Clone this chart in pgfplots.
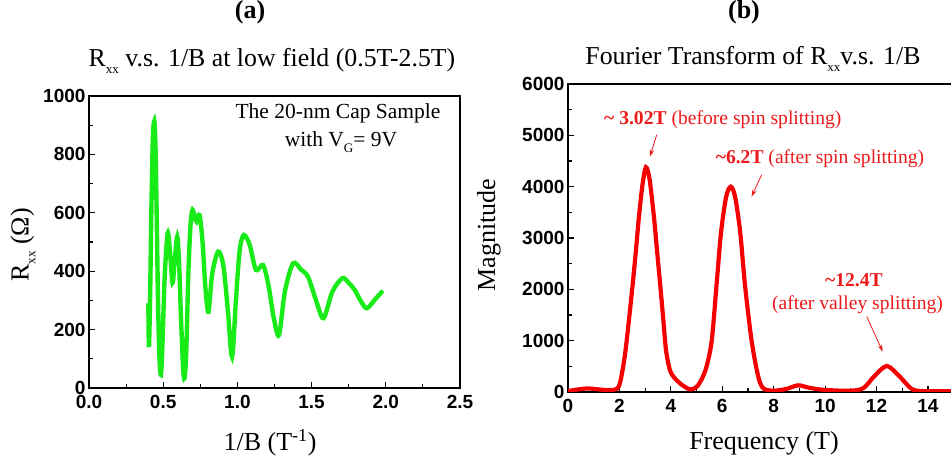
\documentclass[border=0pt]{standalone}
\usepackage{fontspec}
\setmainfont{Liberation Serif}
\newfontfamily\arialfont{Liberation Sans}
\usepackage{pgfplots}
\pgfplotsset{compat=1.18}
\usetikzlibrary{arrows.meta}

\definecolor{curvegreen}{RGB}{25,235,25}
\definecolor{curvered}{RGB}{245,0,0}
\definecolor{notered}{RGB}{235,25,25}

\newcommand\lowsub[1]{\raisebox{-0.55ex}{\fontsize{13}{13}\selectfont #1}}
\newcommand\fs[1]{\fontsize{#1}{#1}\selectfont}

% R_xx against 1/B (T^-1), 20-nm cap sample
\pgfplotstableread{
invB   R
0.400  290
0.404  140
0.412  320
0.420  600
0.430  850
0.440  915
0.448  830
0.456  600
0.465  300
0.475  100
0.485  45
0.495  150
0.510  380
0.530  530
0.545  470
0.563  361
0.578  440
0.594  518
0.606  440
0.620  240
0.634  70
0.644  34
0.655  120
0.670  400
0.685  565
0.698  610
0.712  585
0.725  570
0.745  592
0.765  500
0.785  340
0.805  261
0.830  390
0.870  467
0.905  420
0.935  270
0.964  107
0.990  300
1.015  470
1.043  524
1.083  490
1.125  404
1.173  421
1.210  350
1.245  240
1.280  181
1.320  330
1.375  427
1.430  405
1.476  381
1.530  300
1.580  239
1.640  330
1.707  376
1.750  360
1.790  336
1.835  295
1.873  273
1.930  305
1.980  333
}\rxxdata

% Fourier magnitude against frequency (T)
\pgfplotstableread{
f      mag
0.00   20
0.40   50
0.75   70
1.10   55
1.60   35
1.90   60
2.02   170
2.13   450
2.24   820
2.38   1450
2.52   2120
2.65   2800
2.76   3420
2.90   4050
3.03   4380
3.17   4150
3.34   3420
3.46   2770
3.58   2120
3.70   1450
3.81   820
3.95   450
4.10   300
4.40   150
4.75   50
5.00   100
5.20   250
5.39   500
5.59   1000
5.78   2100
5.95   3100
6.15   3800
6.33   4000
6.50   3800
6.70   3100
6.88   2100
7.14   1000
7.40   300
7.60   70
8.00   25
8.50   60
8.95   130
9.40   80
10.00  40
11.00  25
11.50  80
11.90  300
12.40  507
12.90  300
13.40  50
14.00  15
15.30  15
}\ftdata

\begin{document}
\begin{tikzpicture}
\useasboundingbox (0pt,0pt) rectangle (951pt,460pt);
\pgfplotsset{
  panel/.style={
    scale only axis,
    axis line style={line width=1.5pt},
    tick style={black, line width=1.1pt},
    major tick length=6pt,
    minor tick length=3.5pt,
    tick align=inside,
    xtick pos=bottom,
    ytick pos=left,
    tick label style={font=\arialfont\bfseries\fs{19}},
    xticklabel style={yshift=-3.5pt},
    /pgf/number format/assume math mode=true,
    /pgf/number format/1000 sep={},
  }
}

% (a) R_xx vs 1/B
\begin{axis}[panel,
  at={(89pt,72pt)}, anchor=south west,
  width=371pt, height=292pt,
  xmin=0, xmax=2.5, ymin=0, ymax=1000,
  xtick={0,0.5,1,1.5,2,2.5},
  ytick={0,200,400,600,800,1000},
  minor x tick num=1, minor y tick num=1,
  xticklabel style={/pgf/number format/.cd, fixed, fixed zerofill, precision=1},
]
\addplot[curvegreen, line width=4.4pt, smooth, tension=0.5] table[x=invB, y=R] {\rxxdata};
\end{axis}

% (b) Fourier transform
\begin{axis}[panel,
  at={(568pt,68pt)}, anchor=south west,
  width=393.4pt, height=308pt,
  xmin=0, xmax=15.3, ymin=0, ymax=6000,
  xtick={0,2,4,6,8,10,12,14},
  ytick={0,1000,2000,3000,4000,5000,6000},
  minor x tick num=1, minor y tick num=1,
]
\addplot[curvered, line width=4.2pt, smooth, tension=0.5] table[x=f, y=mag] {\ftdata};

\node[notered, font=\fs{19.6}] at (axis cs:6.02,5310)
  {\textbf{\textasciitilde\ 3.02T} (before spin splitting)};
\draw[notered, line width=0.8pt, -{Stealth[length=7pt,width=4.5pt]}]
  (axis cs:3.45,5010) -- (axis cs:3.19,4587);
\node[notered, font=\fs{19.6}] at (axis cs:9.8,4540)
  {\textbf{\textasciitilde6.2T} (after spin splitting)};
\draw[notered, line width=0.8pt, -{Stealth[length=7pt,width=4.5pt]}]
  (axis cs:7.53,4230) -- (axis cs:7.14,3807);
\node[notered, font=\fs{19.6}\bfseries] at (axis cs:11.12,2183) {\textasciitilde12.4T};
\node[notered, font=\fs{19.6}] at (axis cs:11.26,1696) {(after valley splitting)};
\draw[notered, line width=0.8pt, -{Stealth[length=7pt,width=4.5pt]}]
  (axis cs:11.62,1468) -- (axis cs:12.24,786);
\end{axis}

% panel letters and titles
\node[font=\fs{26}\bfseries, anchor=base] at (250pt,441pt) {(a)};
\node[font=\fs{26}\bfseries, anchor=base] at (744pt,441pt) {(b)};
\node[font=\fs{25.8}, anchor=base] at (272pt,393pt) {R\lowsub{xx} v.s. 1/B at low field (0.5T-2.5T)};
\node[font=\fs{25.8}, anchor=base] at (753pt,395pt) {Fourier Transform of R\lowsub{xx}v.s. 1/B};

% sample note
\node[font=\fs{21.5}, anchor=base] at (338pt,341pt) {The 20-nm Cap Sample};
\node[font=\fs{21.5}, anchor=base] at (341pt,313pt) {with V\lowsub{G}= 9V};

% axis titles
\node[font=\fs{26}] at (270pt,17pt) {1/B (T\textsuperscript{-1})};
\node[font=\fs{26}] at (764pt,17pt) {Frequency (T)};
\node[font=\fs{26}, rotate=90] at (23pt,215pt) {R\lowsub{xx} (Ω)};
\node[font=\fs{26}, rotate=90] at (489pt,225pt) {Magnitude};
\end{tikzpicture}
\end{document}
